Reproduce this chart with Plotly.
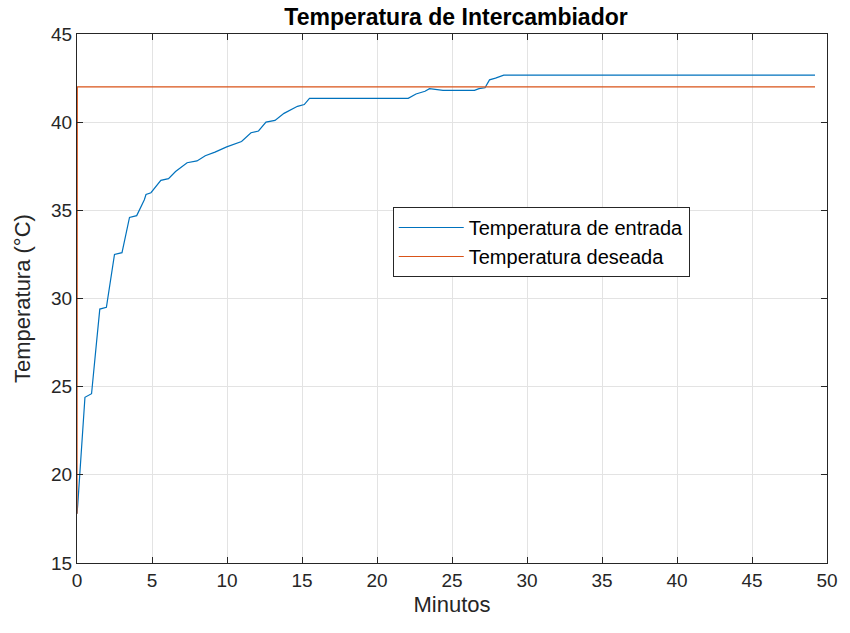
import plotly.graph_objects as go

# Blue series: inlet temperature (minutes, °C)
time_in = [0, 0.05, 0.53, 0.97, 1.3, 1.52, 1.96, 2.5, 3.0, 3.5, 3.98, 4.49, 4.6, 4.93,
           5.59, 6.1, 6.57, 7.34, 8.0, 8.55, 9.2, 9.98, 10.97, 11.6, 12.1, 12.6, 13.2,
           13.8, 14.7, 15.15, 15.5, 22.08, 22.6, 23.2, 23.5, 24.4, 26.5, 26.8, 27.2,
           27.5, 27.9, 28.45, 49.2]
temp_in = [17.8, 18.3, 24.4, 24.6, 27.5, 29.4, 29.5, 32.5, 32.6, 34.6, 34.7, 35.6, 35.9,
           36.0, 36.7, 36.8, 37.2, 37.7, 37.8, 38.1, 38.3, 38.6, 38.9, 39.4, 39.5, 40.0,
           40.1, 40.5, 40.9, 41.0, 41.35, 41.35, 41.6, 41.75, 41.9, 41.8, 41.8, 41.9,
           41.95, 42.4, 42.5, 42.67, 42.67]

# Orange series: setpoint
time_sp = [0, 0.02, 49.2]
temp_sp = [17.8, 42.0, 42.0]

x_ticks = [0, 5, 10, 15, 20, 25, 30, 35, 40, 45, 50]
y_ticks = [15, 20, 25, 30, 35, 40, 45]

FONT = "Liberation Sans, Arial, Helvetica, sans-serif"
AX = "#262626"
GRID = "#e3e3e3"

L, R, T, B = 77, 15, 34, 70
PW = 850 - L - R

fig = go.Figure()
fig.add_trace(go.Scatter(x=time_in, y=temp_in, mode="lines",
                         name="Temperatura de entrada",
                         line=dict(color="#0072BD", width=1.2)))
fig.add_trace(go.Scatter(x=time_sp, y=temp_sp, mode="lines",
                         name="Temperatura deseada",
                         line=dict(color="#D95319", width=1.2)))

fig.update_layout(
    width=850, height=633,
    margin=dict(l=L, r=R, t=T, b=B),
    paper_bgcolor="white", plot_bgcolor="white",
    font=dict(family=FONT, size=19, color=AX),
    title=dict(text="<b>Temperatura de Intercambiador</b>",
               x=(77 + 835) / 2 / 850, xanchor="center",
               y=1 - 16.7 / 633, yanchor="middle", yref="container",
               font=dict(family=FONT, size=23, color="black")),
    showlegend=True,
    legend=dict(x=0.421, y=0.673, xanchor="left", yanchor="top",
                bgcolor="white", bordercolor=AX, borderwidth=1,
                font=dict(family=FONT, size=20, color="black"),
                itemwidth=65, tracegroupgap=0),
    annotations=[dict(text="Temperatura (°C)", textangle=-90,
                      xref="paper", yref="paper", x=(22 - L) / PW, y=0.5,
                      xanchor="center", yanchor="middle", showarrow=False,
                      font=dict(family=FONT, size=22, color=AX))],
)
fig.update_xaxes(range=[0, 50], tickvals=x_ticks, ticktext=[str(v) for v in x_ticks],
                 showline=True, linecolor=AX, linewidth=1, mirror="ticks",
                 ticks="inside", ticklen=6, tickcolor=AX,
                 showgrid=True, gridcolor=GRID, gridwidth=1, zeroline=False,
                 tickfont=dict(size=19, color=AX),
                 title=dict(text="Minutos", font=dict(size=22, color=AX), standoff=6))
fig.update_yaxes(range=[15, 45], tickvals=y_ticks, ticktext=[str(v) for v in y_ticks],
                 showline=True, linecolor=AX, linewidth=1, mirror="ticks",
                 ticks="inside", ticklen=6, tickcolor=AX,
                 showgrid=True, gridcolor=GRID, gridwidth=1, zeroline=False,
                 tickfont=dict(size=19, color=AX))

fig.write_html("out.html")
